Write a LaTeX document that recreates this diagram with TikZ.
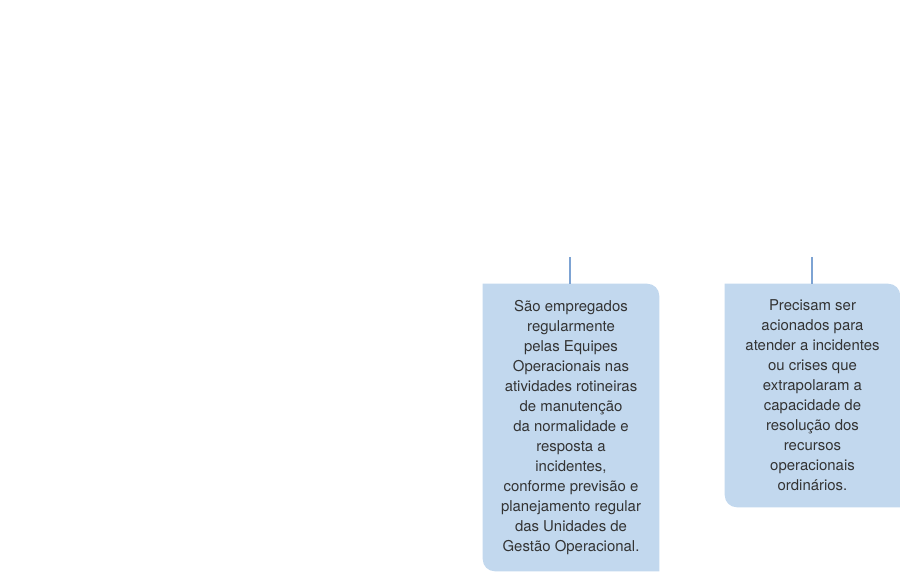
\documentclass[tikz,border=0pt]{standalone}
\usepackage{fontspec}
\setmainfont{TeX Gyre Heros}
\usepackage{tikz}
\usetikzlibrary{backgrounds}
\definecolor{boxblue}{HTML}{C2D8EE}
\definecolor{lineblue}{HTML}{7DA3D3}
\definecolor{txtgray}{HTML}{333333}
\tikzset{
  textbox/.style={inner sep=0pt, align=center, text=txtgray, font=\fontsize{11.2}{15}\selectfont},
  stem/.style={draw=lineblue, line width=2pt}
}

\begin{document}
\begin{tikzpicture}[x=0.75pt, y=-0.75pt]
    \useasboundingbox (0,0) rectangle (900,574);
    \node[textbox, minimum width=132pt, minimum height=215.25pt] at (571, 427.5) (B1) {São empregados\\regularmente\\pelas Equipes\\Operacionais nas\\atividades rotineiras\\de manutenção\\da normalidade e\\resposta a\\incidentes,\\conforme previsão e\\planejamento regular\\das Unidades de\\Gestão Operacional.};
    \node[textbox, minimum width=131.25pt, minimum height=167.25pt] at (812.5, 395.5) (B2) {Precisam ser\\acionados para\\atender a incidentes\\ou crises que\\extrapolaram a\\capacidade de\\resolução dos\\recursos\\operacionais\\ordinários.};

    \begin{scope}[on background layer]
      \foreach \b in {B1, B2}
        \fill[boxblue] (\b.north west) [rounded corners=9pt] -- (\b.north east) [sharp corners] -- (\b.south east) [rounded corners=9pt] -- (\b.south west) [sharp corners] -- cycle;
    \end{scope}

    \coordinate (T1) at (570, 257);
    \coordinate (T2) at (812, 257);
    \draw[stem] (T1) -- (T1 |- B1.north);
    \draw[stem] (T2) -- (T2 |- B2.north);
\end{tikzpicture}
\end{document}
